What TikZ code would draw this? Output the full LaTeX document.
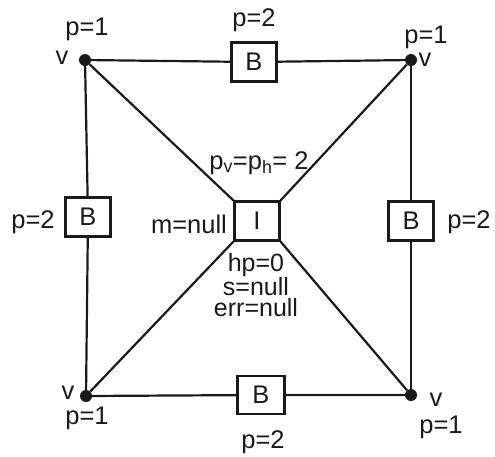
\documentclass[tikz,border=0pt]{standalone}
\usepackage{fontspec}
\setmainfont{Liberation Sans}
\usetikzlibrary{positioning}
\definecolor{ink}{HTML}{1a1a1a}
\tikzset{
  every node/.style={font=\fontsize{25.5}{28}\selectfont, text=ink},
  vertex/.style={
    circle, fill=ink, inner sep=0pt, minimum size=12pt
  },
  bbox/.style={
    rectangle, draw=ink, line width=2.2pt, fill=white,
    minimum width=45pt, minimum height=39pt, inner sep=0pt
  },
  link/.style={line width=2.2pt, draw=ink},
  lbl/.style={anchor=base, inner sep=0pt},
}
\begin{document}
\begin{tikzpicture}[x=1pt, y=-1pt]
  \useasboundingbox (0,0) rectangle (495,456);
  % vertices
  \node[vertex] (vtl) at (85,60) {};
  \node[vertex] (vtr) at (411,60) {};
  \node[vertex] (vbl) at (86,396) {};
  \node[vertex] (vbr) at (411,395) {};
  % boxes
  \node[bbox] (btop) at (254,62) {B};
  \node[bbox] (bleft) at (88,217) {B};
  \node[bbox] (bright) at (411,221) {B};
  \node[bbox, minimum width=47pt, minimum height=38pt] (bbot) at (261,395) {B};
  \node[bbox] (inner) at (257,221) {I};

  \draw[link] (vtl) -- (btop) -- (vtr);
  \draw[link] (vtl) -- (bleft) -- (vbl);
  \draw[link] (vtr) -- (bright) -- (vbr);
  \draw[link] (vbl) -- (bbot) -- (vbr);
  \draw[link] (vtl) -- (inner.north west);
  \draw[link] (vtr) -- (inner.north east);
  \draw[link] (vbl) -- (inner.south west);
  \draw[link] (vbr) -- (inner.south east);

  % labels
  \node[lbl] (ptl) at (87,35) {p=1};
  \node[lbl] (vltl) at (62,64) {v};
  \node[lbl] (ptop) at (254,26) {p=2};
  \node[lbl] (ptr) at (426,43) {p=1};
  \node[lbl] (vltr) at (425,66) {v};
  \node[lbl] (pleft) at (33,228) {p=2};
  \node[lbl] (pright) at (469,228) {p=2};
  \node[lbl] (mnull) at (189,233) {m=null};
  \node[lbl] (pvph) at (259,169) {p\textsubscript{v}=p\textsubscript{h}= 2};
  \node[lbl, align=center, font=\fontsize{25}{20.5}\selectfont] (state) at (256,316) {hp=0\\s=null\\err=null};
  \node[lbl] (vlbl) at (68,399) {v};
  \node[lbl] (pbl) at (87,424) {p=1};
  \node[lbl] (vlbr) at (436,406) {v};
  \node[lbl] (pbr) at (441,433) {p=1};
  \node[lbl] (pbot) at (263,448) {p=2};
\end{tikzpicture}
\end{document}
